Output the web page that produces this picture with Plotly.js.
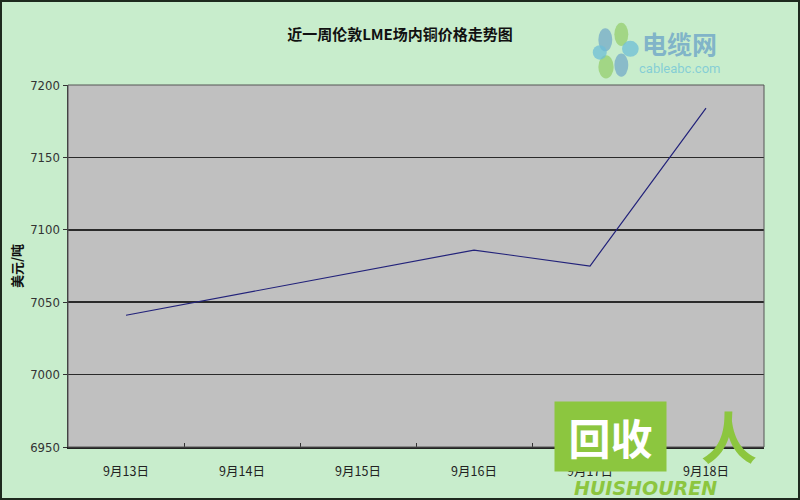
<!DOCTYPE html>
<html>
<head>
<meta charset="utf-8">
<script src="https://cdn.plot.ly/plotly-3.0.1.min.js"></script>
<style>
html,body{margin:0;padding:0;background:#c8edcc;}
#chart{width:800px;height:500px;position:absolute;left:0;top:0;}
#frame{position:absolute;left:0;top:0;width:796px;height:496px;border:2px solid #1e2a1e;pointer-events:none;}
</style>
</head>
<body>
<div id="chart"></div>
<div id="frame"></div>
<script>
var categories = ["9月13日","9月14日","9月15日","9月16日","9月17日","9月18日"];
var prices = [7041, 7056, 7071, 7086, 7075, 7184];
var yTicks = [6950, 7000, 7050, 7100, 7150, 7200];
var titleText = "近一周伦敦LME场内铜价格走势图";
var yTitle = "美元/吨";

var trace = {
  x: categories,
  y: prices,
  type: "scatter",
  mode: "lines",
  line: {color: "#22227a", width: 1.2},
  hoverinfo: "x+y"
};

function petal(cx, cy, rx, ry, color) {
  return {type: "circle", xref: "paper", yref: "paper",
    x0: cx - rx, x1: cx + rx, y0: cy - ry, y1: cy + ry,
    fillcolor: color, line: {width: 0}, layer: "above"};
}

var layout = {
  width: 800,
  height: 500,
  paper_bgcolor: "#c8edcc",
  plot_bgcolor: "#c0c0c0",
  margin: {l: 68, r: 36, t: 85, b: 53},
  showlegend: false,
  title: {
    text: "<b>" + titleText + "</b>",
    x: 0.5, xanchor: "center",
    y: 0.93, yanchor: "middle",
    font: {family: "Noto Sans CJK SC, sans-serif", size: 15, color: "#111"}
  },
  xaxis: {
    type: "category",
    showgrid: false,
    zeroline: false,
    showline: true,
    linecolor: "#222",
    linewidth: 1.5,
    mirror: false,
    ticks: "inside",
    tickson: "boundaries",
    ticklen: 4,
    tickcolor: "#333",
    ticklabelstandoff: 12,
    tickfont: {family: "Noto Sans CJK SC, sans-serif", size: 12.5, color: "#222"},
    range: [-0.5, 5.5]
  },
  yaxis: {
    range: [6950, 7200],
    tickvals: yTicks,
    ticktext: yTicks.map(String),
    showgrid: true,
    gridcolor: "#2a2a2a",
    gridwidth: 1.5,
    zeroline: false,
    showline: true,
    linecolor: "#333",
    linewidth: 1.5,
    ticks: "outside",
    ticklen: 4,
    tickcolor: "#333",
    tickfont: {family: "Liberation Sans Narrow, DejaVu Sans Condensed, sans-serif", size: 13, color: "#333"},
    title: {
      text: "<b>" + yTitle + "</b>",
      standoff: 4,
      font: {family: "Noto Sans CJK SC, sans-serif", size: 13, color: "#111"}
    }
  },
  shapes: [
    {type: "rect", xref: "paper", yref: "paper", x0: 0, x1: 1, y0: 0, y1: 1,
     line: {color: "#555", width: 1}, fillcolor: "rgba(0,0,0,0)", layer: "above"},
    petal(0.772, 1.125, 0.010, 0.032, "rgba(110,165,200,0.7)"),
    petal(0.795, 1.14, 0.010, 0.032, "rgba(150,205,110,0.75)"),
    petal(0.808, 1.10, 0.012, 0.022, "rgba(110,190,215,0.75)"),
    petal(0.795, 1.055, 0.010, 0.032, "rgba(110,165,200,0.7)"),
    petal(0.773, 1.05, 0.011, 0.032, "rgba(150,205,110,0.75)"),
    petal(0.764, 1.09, 0.010, 0.020, "rgba(110,190,215,0.75)")
  ],
  annotations: [
    {xref: "paper", yref: "paper", x: 0.878, y: 1.115, xanchor: "center", yanchor: "middle",
     text: "<b>电缆网</b>", showarrow: false,
     font: {family: "Noto Sans CJK SC, sans-serif", size: 25, color: "rgba(110,165,200,0.8)"}},
    {xref: "paper", yref: "paper", x: 0.878, y: 1.045, xanchor: "center", yanchor: "middle",
     text: "cableabc.com", showarrow: false,
     font: {family: "Roboto, sans-serif", size: 13, color: "rgba(120,200,215,0.85)"}},
    {xref: "paper", yref: "paper", x: 0.779, y: 0.028, xanchor: "center", yanchor: "middle",
     text: "<b>&nbsp;回收&nbsp;</b>", showarrow: false, bgcolor: "#8cc63f", borderpad: 4,
     font: {family: "Noto Sans CJK SC, sans-serif", size: 42, color: "#ffffff"}},
    {xref: "paper", yref: "paper", x: 0.95, y: 0.035, xanchor: "center", yanchor: "middle",
     text: "<b>人</b>", showarrow: false,
     font: {family: "Noto Sans CJK SC, sans-serif", size: 56, color: "#8cc63f"}},
    {xref: "paper", yref: "paper", x: 0.83, y: -0.112, xanchor: "center", yanchor: "middle",
     text: "<b><i>HUISHOUREN</i></b>", showarrow: false,
     font: {family: "DejaVu Sans, sans-serif", size: 19, color: "#8cc63f"}}
  ]
};

Plotly.newPlot("chart", [trace], layout, {displayModeBar: false, staticPlot: true});
</script>
</body>
</html>
